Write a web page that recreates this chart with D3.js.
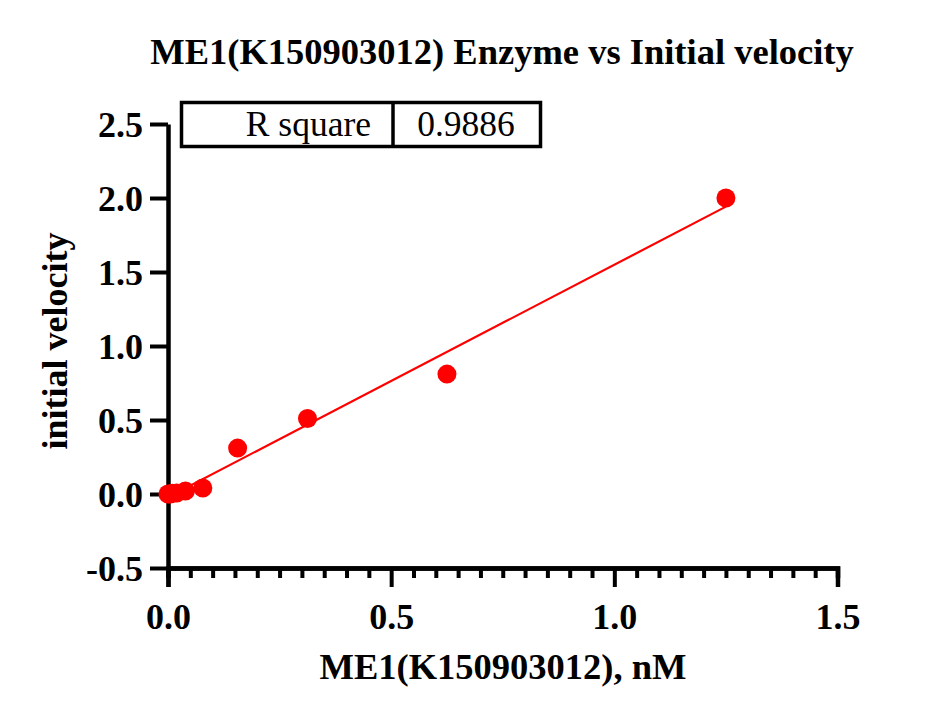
<!DOCTYPE html>
<html>
<head>
<meta charset="utf-8">
<script src="https://cdn.jsdelivr.net/npm/d3@7"></script>
<style>
  body { margin: 0; background: #fff; }
  svg { display: block; }
  text { font-family: "Liberation Serif", "Times New Roman", serif; }
</style>
</head>
<body>
<div id="chart"></div>
<script>
// concentration (nM) vs initial velocity
const concentration = [0, 0.0049, 0.0098, 0.0195, 0.039, 0.078, 0.156, 0.3125, 0.625, 1.25];
const velocity = [0.0, 0.0, 0.005, 0.007, 0.02, 0.04, 0.31, 0.51, 0.81, 2.0];
const xTicks = [0, 0.5, 1.0, 1.5];
const yTicks = [-0.5, 0, 0.5, 1.0, 1.5, 2.0, 2.5];
const rSquareLabel = 'R square';
const rSquareValue = '0.9886';

const width = 945, height = 721;
const margin = { top: 124, right: 107.5, bottom: 153, left: 168 };
const innerW = width - margin.left - margin.right,
  innerH = height - margin.top - margin.bottom;

// prism style labels use a plain hyphen for negatives
const fmt = v => d3.format('.1f')(v).replace('\u2212', '-');

const svg = d3.select('#chart').append('svg')
  .attr('width', width)
  .attr('height', height);

const x = d3.scaleLinear().domain([0, 1.5]).range([margin.left, margin.left + innerW]);
const y = d3.scaleLinear().domain([-0.5, 2.5]).range([margin.top + innerH, margin.top]);

// title
svg.append('text')
  .attr('x', 502)
  .attr('y', 64)
  .attr('text-anchor', 'middle')
  .style('font-size', '36.5px')
  .style('font-weight', 'bold')
  .text('ME1(K150903012) Enzyme vs Initial velocity');

// x axis, major + minor ticks
const xMinor = d3.range(0, 1.5001, 0.05).filter(v => Math.abs(v * 2 - Math.round(v * 2)) > 1e-6);
const gx = svg.append('g').attr('transform', 'translate(0,' + y(-0.5) + ')');
gx.call(d3.axisBottom(x).tickValues(xMinor).tickSize(10).tickFormat(''));
const gxMaj = svg.append('g').attr('transform', 'translate(0,' + y(-0.5) + ')');
gxMaj.call(d3.axisBottom(x).tickValues(xTicks).tickSize(19).tickPadding(16).tickFormat(fmt));
[gx, gxMaj].forEach(g => {
  g.select('.domain').attr('stroke-width', 4.5).attr('stroke', '#000');
  g.selectAll('.tick line').attr('stroke-width', 4).attr('stroke', '#000');
});
gxMaj.selectAll('.tick text')
  .style('font-size', '36px')
  .style('font-weight', 'bold')
  .attr('fill', '#000');

// y axis
const gy = svg.append('g').attr('transform', 'translate(' + x(0) + ',0)');
gy.call(d3.axisLeft(y).tickValues(yTicks).tickSize(18).tickPadding(7).tickSizeOuter(0).tickFormat(fmt));
gy.select('.domain').attr('stroke-width', 4.5).attr('stroke', '#000');
gy.selectAll('.tick line').attr('stroke-width', 4).attr('stroke', '#000');
gy.selectAll('.tick text')
  .style('font-size', '36px')
  .style('font-weight', 'bold')
  .attr('fill', '#000')
  .attr('dy', '0.34em');

// axis titles
svg.append('text')
  .attr('x', 503)
  .attr('y', 679)
  .attr('text-anchor', 'middle')
  .style('font-size', '36.5px')
  .style('font-weight', 'bold')
  .text('ME1(K150903012), nM');

svg.append('text')
  .attr('transform', 'translate(67,341) rotate(-90)')
  .attr('text-anchor', 'middle')
  .style('font-size', '36px')
  .style('font-weight', 'bold')
  .text('initial velocity');

// linear fit
const n = concentration.length;
const mx = d3.mean(concentration), my = d3.mean(velocity);
let sxx = 0, sxy = 0;
for (let i = 0; i < n; i++) {
  sxx += (concentration[i] - mx) ** 2;
  sxy += (concentration[i] - mx) * (velocity[i] - my);
}
const slope = sxy / sxx, intercept = my - slope * mx;
const xExt = d3.extent(concentration);

svg.append('line')
  .attr('x1', x(xExt[0])).attr('y1', y(intercept + slope * xExt[0]))
  .attr('x2', x(xExt[1])).attr('y2', y(intercept + slope * xExt[1]))
  .attr('stroke', '#ff0000')
  .attr('stroke-width', 2.2);

// points
svg.append('g').selectAll('circle')
  .data(concentration.map((c, i) => [c, velocity[i]]))
  .join('circle')
  .attr('cx', d => x(d[0]))
  .attr('cy', d => y(d[1]))
  .attr('r', 9.5)
  .attr('fill', '#ff0000');

// R square table
const box = svg.append('g');
box.append('rect')
  .attr('x', 181.5).attr('y', 102.5)
  .attr('width', 359).attr('height', 44)
  .attr('fill', '#fff').attr('stroke', '#000').attr('stroke-width', 3.5);
box.append('line')
  .attr('x1', 393).attr('x2', 393).attr('y1', 102.5).attr('y2', 146.5)
  .attr('stroke', '#000').attr('stroke-width', 3.5);
box.append('text')
  .attr('x', 371).attr('y', 136)
  .attr('text-anchor', 'end')
  .style('font-size', '35.5px')
  .text(rSquareLabel);
box.append('text')
  .attr('x', 466).attr('y', 136)
  .attr('text-anchor', 'middle')
  .style('font-size', '35.5px')
  .text(rSquareValue);
</script>
</body>
</html>
